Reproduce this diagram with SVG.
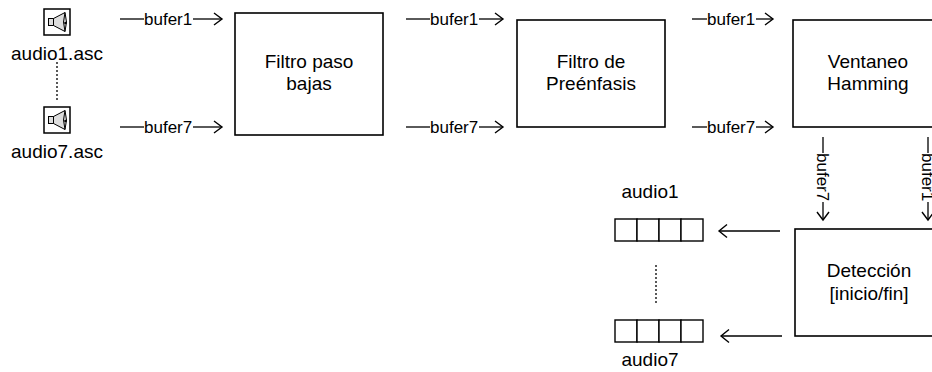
<svg xmlns="http://www.w3.org/2000/svg" width="932" height="372" viewBox="0 0 932 372">
<style>
text{font-family:"Liberation Sans",Arial,sans-serif;fill:#000}
.t{font-size:19px;text-anchor:middle}
.l{font-size:17px}
.box{fill:#fff;stroke:#000;stroke-width:1.6}
.ln{fill:none;stroke:#000;stroke-width:1.3}
.ah{fill:none;stroke:#000;stroke-width:1.4;stroke-linejoin:miter}
.dot{fill:none;stroke:#000;stroke-width:1.3;stroke-dasharray:2,2}
.cell{fill:#fff;stroke:#000;stroke-width:1.4}
</style>
<defs>
<g id="spk">
<rect x="0" y="0" width="26" height="26" fill="#fff" stroke="#000" stroke-width="1.5"/>
<rect x="4.5" y="9.5" width="5" height="7" fill="#ddd" stroke="#000" stroke-width="1"/>
<path d="M9.5,9.5 L21,3.5 Q24,13 21,22.5 L9.5,16.5 Z" fill="#ddd" stroke="#000" stroke-width="1"/>
<path d="M21,3.5 Q18,13 21,22.5" fill="none" stroke="#000" stroke-width="1"/>
<circle cx="21.5" cy="14" r="1.3" fill="#000"/>
</g>
<g id="buf">
<rect class="cell" x="0" y="0" width="22" height="22"/>
<rect class="cell" x="22" y="0" width="22" height="22"/>
<rect class="cell" x="44" y="0" width="22" height="22"/>
<rect class="cell" x="66" y="0" width="22" height="22"/>
</g>
</defs>
<g id="audio1">
<use href="#spk" x="44" y="9"/>
<text class="t" x="57" y="60">audio1.asc</text>
</g>
<g id="audio7">
<use href="#spk" x="44" y="107"/>
<text class="t" x="57" y="158">audio7.asc</text>
</g>
<g id="filtro-paso-bajas">
<rect class="box" x="235" y="13" width="148" height="122"/>
<text class="t" x="309" y="68">Filtro paso</text>
<text class="t" x="309" y="90">bajas</text>
</g>
<g id="filtro-preenfasis">
<rect class="box" x="517" y="20" width="148" height="107"/>
<text class="t" x="591" y="68">Filtro de</text>
<text class="t" x="591" y="90">Preénfasis</text>
</g>
<g id="ventaneo-hamming">
<rect class="box" x="793" y="20" width="150" height="107"/>
<text class="t" x="868" y="68">Ventaneo</text>
<text class="t" x="868" y="90">Hamming</text>
</g>
<g id="deteccion">
<rect class="box" x="795" y="229" width="150" height="107"/>
<text class="t" x="869" y="277">Detección</text>
<text class="t" x="869" y="300">[inicio/fin]</text>
</g>
<g id="buffer-audio1">
<text class="t" x="650" y="198">audio1</text>
<use href="#buf" x="615" y="219"/>
</g>
<g id="buffer-audio7">
<use href="#buf" x="615" y="320"/>
<text class="t" x="650" y="366">audio7</text>
</g>
<g id="connectors">
<line class="dot" x1="57" y1="62" x2="57" y2="101"/>
<line class="dot" x1="656" y1="265" x2="656" y2="304"/>
<line class="ln" x1="120" y1="19" x2="144" y2="19"/>
<text class="l" x="144" y="25">bufer1</text>
<line class="ln" x1="193" y1="19" x2="222" y2="19"/>
<path class="ah" d="M214,13 L222,19 L214,25"/>
<line class="ln" x1="120" y1="127" x2="144" y2="127"/>
<text class="l" x="144" y="133">bufer7</text>
<line class="ln" x1="193" y1="127" x2="222" y2="127"/>
<path class="ah" d="M214,121 L222,127 L214,133"/>
<line class="ln" x1="406" y1="19" x2="430" y2="19"/>
<text class="l" x="430" y="25">bufer1</text>
<line class="ln" x1="479" y1="19" x2="503" y2="19"/>
<path class="ah" d="M495,13 L503,19 L495,25"/>
<line class="ln" x1="406" y1="127" x2="430" y2="127"/>
<text class="l" x="430" y="133">bufer7</text>
<line class="ln" x1="479" y1="127" x2="503" y2="127"/>
<path class="ah" d="M495,121 L503,127 L495,133"/>
<line class="ln" x1="692" y1="19" x2="707" y2="19"/>
<text class="l" x="707" y="25">bufer1</text>
<line class="ln" x1="756" y1="19" x2="773" y2="19"/>
<path class="ah" d="M765,13 L773,19 L765,25"/>
<line class="ln" x1="692" y1="127" x2="707" y2="127"/>
<text class="l" x="707" y="133">bufer7</text>
<line class="ln" x1="756" y1="127" x2="773" y2="127"/>
<path class="ah" d="M765,121 L773,127 L765,133"/>
<line class="ln" x1="823" y1="137" x2="823" y2="153"/>
<text class="l" transform="translate(817,153) rotate(90)">bufer7</text>
<line class="ln" x1="823" y1="202" x2="823" y2="220"/>
<path class="ah" d="M817,212 L823,220 L829,212"/>
<line class="ln" x1="928" y1="137" x2="928" y2="153"/>
<text class="l" transform="translate(922,153) rotate(90)">bufer1</text>
<line class="ln" x1="928" y1="202" x2="928" y2="220"/>
<path class="ah" d="M922,212 L928,220 L934,212"/>
<line class="ln" x1="719" y1="231" x2="780" y2="231"/>
<path class="ah" d="M727,224.5 L719,231 L727,237.5"/>
<line class="ln" x1="721" y1="336" x2="782" y2="336"/>
<path class="ah" d="M729,329.5 L721,336 L729,342.5"/>
</g>
</svg>
